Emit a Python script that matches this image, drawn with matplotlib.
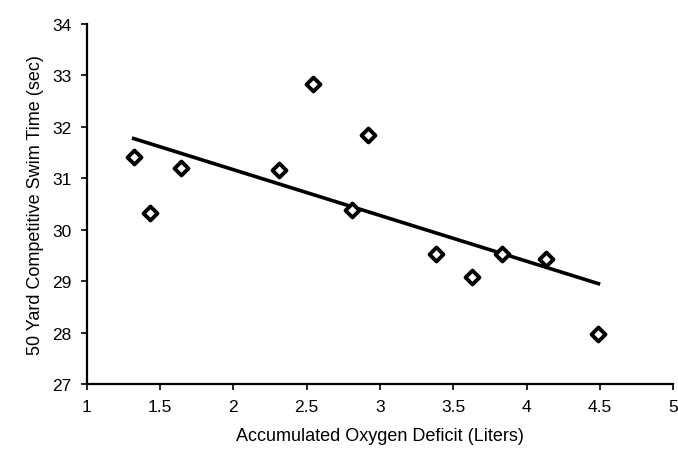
import numpy as np
import matplotlib
matplotlib.use("Agg")
import matplotlib.pyplot as plt

plt.rcParams['font.family'] = ['Liberation Sans', 'DejaVu Sans']

# Data
oxygen_deficit = [1.32, 1.43, 1.64, 2.31, 2.54, 2.92, 2.81, 3.38, 3.63, 3.83, 4.13, 4.49]
swim_time = [31.41, 30.33, 31.20, 31.17, 32.83, 31.84, 30.38, 29.53, 29.08, 29.53, 29.44, 27.98]
x_ticks = [1, 1.5, 2, 2.5, 3, 3.5, 4, 4.5, 5]
x_tick_labels = ["1", "1.5", "2", "2.5", "3", "3.5", "4", "4.5", "5"]
y_ticks = [27, 28, 29, 30, 31, 32, 33, 34]

x = np.array(oxygen_deficit)
y = np.array(swim_time)

fig = plt.figure(figsize=(6.78, 4.52), dpi=100)
ax = fig.add_axes([0.128, 0.148, 0.865, 0.797])

# Linear trendline
slope, intercept = np.polyfit(x, y, 1)
xl = np.array([x.min(), x.max()])
ax.plot(xl, slope * xl + intercept, color='black', linewidth=2.6, zorder=2)

ax.scatter(x, y, marker='D', s=50, facecolor='white', edgecolor='black',
           linewidth=2.8, zorder=3)

ax.set_xlim(1, 5)
ax.set_ylim(27, 34)
ax.set_xticks(x_ticks)
ax.set_xticklabels(x_tick_labels)
ax.set_yticks(y_ticks)

for s in ['top', 'right']:
    ax.spines[s].set_visible(False)
for s in ['left', 'bottom']:
    ax.spines[s].set_linewidth(1.6)
    ax.spines[s].set_color('black')

ax.tick_params(axis='both', direction='out', length=4, width=1.2,
               labelsize=12.5, colors='black', pad=7)

ax.set_xlabel("Accumulated Oxygen Deficit (Liters)", fontsize=13, labelpad=9)
ax.set_ylabel("50 Yard Competitive Swim Time (sec)", fontsize=13, labelpad=6)

fig.savefig("out.png", dpi=100, facecolor='white')
